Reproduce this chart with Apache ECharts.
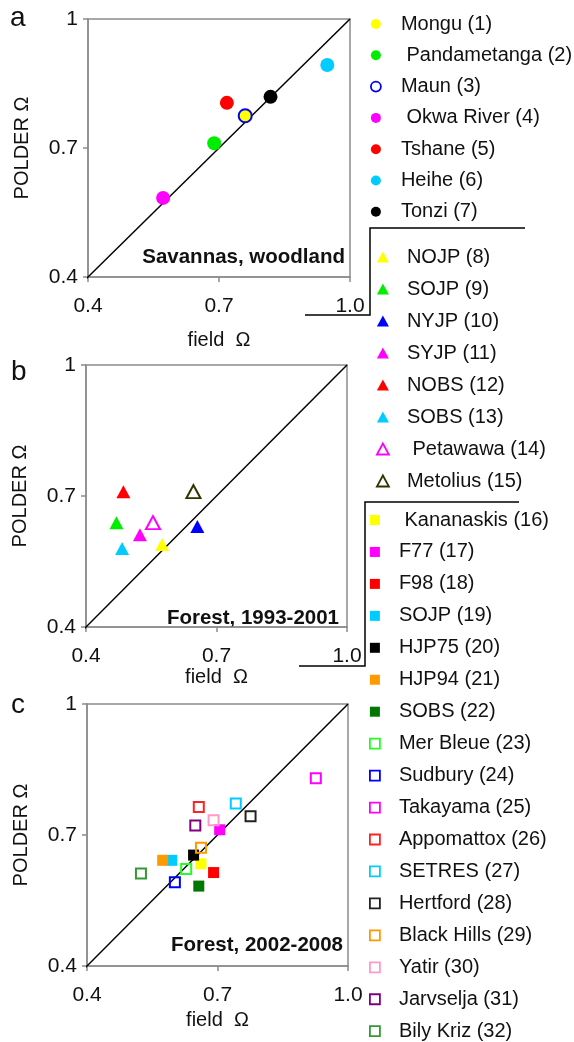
<!DOCTYPE html>
<html>
<head>
<meta charset="utf-8">
<title>POLDER vs field Ω</title>
<script src="https://cdn.jsdelivr.net/npm/echarts@6/dist/echarts.min.js"></script>
<style>
html, body { margin: 0; padding: 0; background: #fff; }
#main { width: 574px; height: 1042px; }
</style>
</head>
<body>
<div id="main"></div>
<script type="text/javascript">
	// axis ticks (same on all three panels)
	var xTicks = ['0.4', '0.7', '1.0'];
	var yTicks = ['0.4', '0.7', '1'];
	var oneToOne = [0.385, 1.0];

	// a: savannas, woodland
	var sitesA = ['Mongu (1)', 'Pandametanga (2)', 'Maun (3)', 'Okwa River (4)', 'Tshane (5)', 'Heihe (6)', 'Tonzi (7)'];
	var fieldA = [0.760, 0.689, 0.760, 0.572, 0.718, 0.948, 0.818];
	var polderA = [0.774, 0.711, 0.775, 0.584, 0.805, 0.893, 0.819];

	// b: forest 1993-2001
	var sitesB = ['NOJP (8)', 'SOJP (9)', 'NYJP (10)', 'SYJP (11)', 'NOBS (12)', 'SOBS (13)', 'Petawawa (14)', 'Metolius (15)'];
	var fieldB = [0.575, 0.470, 0.656, 0.524, 0.486, 0.483, 0.554, 0.647];
	var polderB = [0.589, 0.639, 0.630, 0.611, 0.710, 0.580, 0.639, 0.710];

	// c: forest 2002-2008
	var sitesC = ['Kananaskis (16)', 'F77 (17)', 'F98 (18)', 'SOJP (19)', 'HJP75 (20)', 'HJP94 (21)', 'SOBS (22)',
		'Mer Bleue (23)', 'Sudbury (24)', 'Takayama (25)', 'Appomattox (26)', 'SETRES (27)', 'Hertford (28)',
		'Black Hills (29)', 'Yatir (30)', 'Jarvselja (31)', 'Bily Kriz (32)'];
	var fieldC = [0.662, 0.705, 0.691, 0.595, 0.645, 0.574, 0.657, 0.628, 0.602, 0.926, 0.657, 0.742, 0.776, 0.662, 0.691, 0.649, 0.524];
	var polderC = [0.634, 0.712, 0.614, 0.642, 0.654, 0.642, 0.583, 0.622, 0.592, 0.830, 0.764, 0.772, 0.743, 0.671, 0.734, 0.722, 0.612];

	// styles
	var colorsA = ['#ffff00', '#00ee00', '#0000ff', '#ff00ff', '#ff0000', '#00ccff', '#000000'];
	var openA = [false, false, true, false, false, false, false];
	var colorsB = ['#ffff00', '#00ee00', '#0000ff', '#ff00ff', '#ff0000', '#00ccff', '#ff00ff', '#333300'];
	var openB = [false, false, false, false, false, false, true, true];
	var colorsC = ['#ffff00', '#ff00ff', '#ff0000', '#00ccff', '#000000', '#ff9900', '#007700',
		'#22ff22', '#0000ff', '#ff00ff', '#ff2222', '#00ccff', '#222222', '#ff9900', '#ff99cc', '#800080', '#339933'];
	var openC = [false, false, false, false, false, false, false, true, true, true, true, true, true, true, true, true, true];
	var indented = ['Pandametanga (2)', 'Okwa River (4)', 'Petawawa (14)', 'Kananaskis (16)'];

	var FONT = '"Liberation Sans", Arial, Helvetica, sans-serif';

	var grids = [
		{ left: 88, top: 19, width: 262, height: 258 },
		{ left: 86, top: 365, width: 261, height: 262 },
		{ left: 87, top: 704, width: 261, height: 262 }
	];
	var xNameGaps = [53, 40, 44];

	function makeAxis(i, isX) {
		return {
			type: 'value',
			gridIndex: i,
			min: 0.4,
			max: 1.0,
			interval: 0.3,
			name: isX ? 'field  Ω' : 'POLDER Ω',
			nameLocation: 'middle',
			nameGap: isX ? xNameGaps[i] : 56,
			nameTextStyle: { fontFamily: FONT, fontSize: 20, color: '#111' },
			axisLine: { show: true, onZero: false, lineStyle: { color: '#8c8c8c', width: 1.5 } },
			axisTick: { show: true, length: 5, lineStyle: { color: '#8c8c8c', width: 1.5 } },
			splitLine: { show: false },
			axisLabel: {
				fontFamily: FONT, fontSize: 21, color: '#111',
				margin: isX ? 19 : 10,
				showMinLabel: true, showMaxLabel: true,
				formatter: function (v) {
					var k = Math.round((v - 0.4) / 0.3);
					return isX ? xTicks[k] : yTicks[k];
				}
			}
		};
	}

	var xAxes = [], yAxes = [], series = [];
	for (var i = 0; i < 3; i++) {
		xAxes.push(makeAxis(i, true));
		yAxes.push(makeAxis(i, false));
		series.push({
			type: 'line',
			xAxisIndex: i,
			yAxisIndex: i,
			symbol: 'none',
			silent: true,
			clip: false,
			z: 1,
			lineStyle: { color: '#000', width: 1.5 },
			data: [[oneToOne[0], oneToOne[0]], [oneToOne[1], oneToOne[1]]]
		});
	}

	var panels = [
		{ sites: sitesA, x: fieldA, y: polderA, colors: colorsA, open: openA, symbol: 'circle', size: 14, legendSize: [10, 10] },
		{ sites: sitesB, x: fieldB, y: polderB, colors: colorsB, open: openB, symbol: 'triangle', size: [14, 13], legendSize: [12, 11] },
		{ sites: sitesC, x: fieldC, y: polderC, colors: colorsC, open: openC, symbol: 'rect', size: 11, legendSize: [10, 10] }
	];
	var legendPos = [
		{ left: 370, top: 14, itemGap: 11.3, pad: 15 },
		{ left: 376, top: 247, itemGap: 12, pad: 13 },
		{ left: 369, top: 510, itemGap: 11.95, pad: 14 }
	];

	var legends = [];
	panels.forEach(function (p, pi) {
		var legendData = [];
		p.sites.forEach(function (name, k) {
			var c = p.colors[k];
			var isOpen = p.open[k];
			series.push({
				name: name,
				type: 'scatter',
				xAxisIndex: pi,
				yAxisIndex: pi,
				symbol: p.symbol,
				symbolSize: isOpen && pi === 2 ? 10 : (isOpen && pi === 0 ? 13 : p.size),
				z: 3,
				itemStyle: isOpen ? { color: 'rgba(255,255,255,0)', borderColor: c, borderWidth: 2, opacity: 1 }
					: { color: c, borderWidth: 0, opacity: 1 },
				emphasis: { disabled: true },
				data: [[p.x[k], p.y[k]]]
			});
			legendData.push({
				name: name,
				icon: p.symbol,
				itemStyle: isOpen ? { color: '#fff', borderColor: c, borderWidth: 1.8 } : { color: c, borderWidth: 0 }
			});
		});
		var lp = legendPos[pi];
		legends.push({
			orient: 'vertical',
			left: lp.left,
			top: lp.top,
			itemGap: lp.itemGap,
			itemWidth: p.legendSize[0],
			itemHeight: p.legendSize[1],
			selectedMode: false,
			padding: 0,
			data: legendData,
			formatter: function (name) {
				return (indented.indexOf(name) >= 0 ? ' ' : '') + name;
			},
			textStyle: {
				fontFamily: FONT, fontSize: 20, color: '#111', lineHeight: 20,
				padding: [0, 0, 0, lp.pad]
			}
		});
	});

	function txt(s, x, y, font, align) {
		return {
			type: 'text',
			silent: true,
			style: { text: s, x: x, y: y, font: font, fill: '#111', textAlign: align, textVerticalAlign: 'middle' }
		};
	}
	function bracket(pts) {
		return {
			type: 'polyline',
			silent: true,
			shape: { points: pts },
			style: { stroke: '#000', lineWidth: 1.5, fill: null }
		};
	}

	var option = {
		backgroundColor: '#fff',
		animation: false,
		grid: grids.map(function (g) {
			return { left: g.left, top: g.top, width: g.width, height: g.height, show: true, borderColor: '#8c8c8c', borderWidth: 1.5, containLabel: false };
		}),
		xAxis: xAxes,
		yAxis: yAxes,
		legend: legends,
		series: series,
		graphic: [
			txt('a', 10, 18, '28px ' + FONT, 'left'),
			txt('b', 11, 372, '28px ' + FONT, 'left'),
			txt('c', 11, 705, '28px ' + FONT, 'left'),
			txt('Savannas, woodland', 345, 257, 'bold 20.5px ' + FONT, 'right'),
			txt('Forest, 1993-2001', 339, 618, 'bold 20.5px ' + FONT, 'right'),
			txt('Forest, 2002-2008', 343, 945, 'bold 20.5px ' + FONT, 'right'),
			bracket([[525, 228], [370, 228], [370, 315], [305, 315]]),
			bracket([[519, 502], [365, 502], [365, 666], [299, 666]])
		]
	};

	var myChart = echarts.init(document.getElementById('main'), null, { renderer: 'canvas' });
	myChart.setOption(option);
</script>
</body>
</html>
